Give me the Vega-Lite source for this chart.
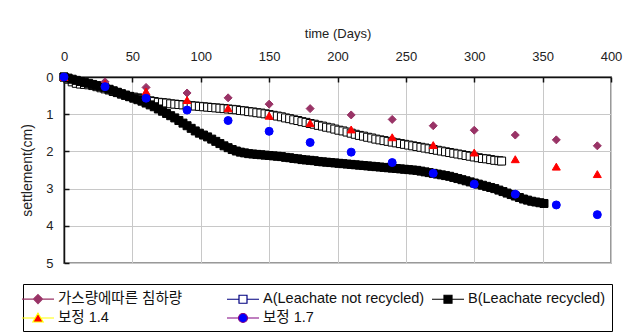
{
  "$schema": "https://vega.github.io/schema/vega-lite/v6.json",
  "width": 547,
  "height": 186,
  "autosize": {"type": "none"},
  "padding": {"left": 64, "top": 77, "right": 18, "bottom": 72},
  "background": "white",
  "config": {
    "view": {"stroke": "#999999", "strokeWidth": 2},
    "font": "Liberation Sans",
    "axis": {
      "labelFont": "Liberation Sans",
      "titleFont": "Liberation Sans",
      "labelColor": "#222222",
      "titleColor": "#222222",
      "labelFontSize": 13,
      "titleFontSize": 13,
      "titleFontWeight": "normal",
      "gridColor": "#c8c8c8",
      "gridWidth": 1,
      "domainColor": "#111111",
      "domainWidth": 1.5,
      "tickColor": "#111111",
      "tickWidth": 1.5
    },
    "legend": {
      "orient": "none",
      "legendX": -41,
      "legendY": 207,
      "direction": "horizontal",
      "columns": 3,
      "gridAlign": "all",
      "columnPadding": 4,
      "rowPadding": 3,
      "padding": 6,
      "strokeColor": "#000000",
      "fillColor": "#ffffff",
      "labelFont": "Liberation Sans, Noto Sans CJK KR",
      "labelFontSize": 14.5,
      "labelColor": "#111111",
      "labelOffset": 11,
      "labelLimit": 300,
      "symbolSize": 256,
      "symbolStrokeWidth": 1.2
    }
  },
  "data": {
    "values": [
      {"s":"A","d":0,"v":0},{"s":"A","d":3,"v":0.06},{"s":"A","d":6,"v":0.13},{"s":"A","d":9,"v":0.17},{"s":"A","d":12,"v":0.19},{"s":"A","d":15,"v":0.2},{"s":"A","d":18,"v":0.21},{"s":"A","d":21,"v":0.23},{"s":"A","d":24,"v":0.26},{"s":"A","d":27,"v":0.29},{"s":"A","d":30,"v":0.32},{"s":"A","d":33,"v":0.35},{"s":"A","d":36,"v":0.39},{"s":"A","d":39,"v":0.42},{"s":"A","d":42,"v":0.46},{"s":"A","d":45,"v":0.49},{"s":"A","d":48,"v":0.52},{"s":"A","d":51,"v":0.54},{"s":"A","d":54,"v":0.56},{"s":"A","d":57,"v":0.58},{"s":"A","d":60,"v":0.61},{"s":"A","d":63,"v":0.64},{"s":"A","d":66,"v":0.66},{"s":"A","d":69,"v":0.68},{"s":"A","d":72,"v":0.69},{"s":"A","d":75,"v":0.7},{"s":"A","d":78,"v":0.72},{"s":"A","d":81,"v":0.73},{"s":"A","d":84,"v":0.74},{"s":"A","d":87,"v":0.75},{"s":"A","d":90,"v":0.76},{"s":"A","d":93,"v":0.77},{"s":"A","d":96,"v":0.78},{"s":"A","d":99,"v":0.79},{"s":"A","d":102,"v":0.8},{"s":"A","d":105,"v":0.81},{"s":"A","d":108,"v":0.82},{"s":"A","d":111,"v":0.83},{"s":"A","d":114,"v":0.84},{"s":"A","d":117,"v":0.85},{"s":"A","d":120,"v":0.86},{"s":"A","d":123,"v":0.87},{"s":"A","d":126,"v":0.88},{"s":"A","d":129,"v":0.9},{"s":"A","d":132,"v":0.91},{"s":"A","d":135,"v":0.93},{"s":"A","d":138,"v":0.94},{"s":"A","d":141,"v":0.96},{"s":"A","d":144,"v":0.97},{"s":"A","d":147,"v":0.99},{"s":"A","d":150,"v":1.01},{"s":"A","d":153,"v":1.03},{"s":"A","d":156,"v":1.05},{"s":"A","d":159,"v":1.07},{"s":"A","d":162,"v":1.1},{"s":"A","d":165,"v":1.12},{"s":"A","d":168,"v":1.15},{"s":"A","d":171,"v":1.17},{"s":"A","d":174,"v":1.2},{"s":"A","d":177,"v":1.22},{"s":"A","d":180,"v":1.25},{"s":"A","d":183,"v":1.27},{"s":"A","d":186,"v":1.3},{"s":"A","d":189,"v":1.32},{"s":"A","d":192,"v":1.35},{"s":"A","d":195,"v":1.37},{"s":"A","d":198,"v":1.4},{"s":"A","d":201,"v":1.43},{"s":"A","d":204,"v":1.45},{"s":"A","d":207,"v":1.48},{"s":"A","d":210,"v":1.51},{"s":"A","d":213,"v":1.54},{"s":"A","d":216,"v":1.57},{"s":"A","d":219,"v":1.59},{"s":"A","d":222,"v":1.62},{"s":"A","d":225,"v":1.64},{"s":"A","d":228,"v":1.67},{"s":"A","d":231,"v":1.69},{"s":"A","d":234,"v":1.71},{"s":"A","d":237,"v":1.73},{"s":"A","d":240,"v":1.75},{"s":"A","d":243,"v":1.77},{"s":"A","d":246,"v":1.79},{"s":"A","d":249,"v":1.81},{"s":"A","d":252,"v":1.83},{"s":"A","d":255,"v":1.85},{"s":"A","d":258,"v":1.87},{"s":"A","d":261,"v":1.89},{"s":"A","d":264,"v":1.91},{"s":"A","d":267,"v":1.93},{"s":"A","d":270,"v":1.95},{"s":"A","d":273,"v":1.97},{"s":"A","d":276,"v":1.99},{"s":"A","d":279,"v":2.01},{"s":"A","d":282,"v":2.03},{"s":"A","d":285,"v":2.05},{"s":"A","d":288,"v":2.07},{"s":"A","d":291,"v":2.09},{"s":"A","d":294,"v":2.11},{"s":"A","d":297,"v":2.13},{"s":"A","d":300,"v":2.15},{"s":"A","d":303,"v":2.17},{"s":"A","d":306,"v":2.19},{"s":"A","d":309,"v":2.2},{"s":"A","d":312,"v":2.22},{"s":"A","d":315,"v":2.24},{"s":"A","d":318,"v":2.25},{"s":"A","d":320,"v":2.26},
      {"s":"B","d":0,"v":0},{"s":"B","d":3,"v":0.03},{"s":"B","d":6,"v":0.06},{"s":"B","d":9,"v":0.09},{"s":"B","d":12,"v":0.12},{"s":"B","d":15,"v":0.15},{"s":"B","d":18,"v":0.17},{"s":"B","d":21,"v":0.2},{"s":"B","d":24,"v":0.23},{"s":"B","d":27,"v":0.26},{"s":"B","d":30,"v":0.29},{"s":"B","d":33,"v":0.33},{"s":"B","d":36,"v":0.37},{"s":"B","d":39,"v":0.41},{"s":"B","d":42,"v":0.45},{"s":"B","d":45,"v":0.49},{"s":"B","d":48,"v":0.53},{"s":"B","d":51,"v":0.57},{"s":"B","d":54,"v":0.61},{"s":"B","d":57,"v":0.65},{"s":"B","d":60,"v":0.7},{"s":"B","d":63,"v":0.75},{"s":"B","d":66,"v":0.8},{"s":"B","d":69,"v":0.86},{"s":"B","d":72,"v":0.92},{"s":"B","d":75,"v":0.98},{"s":"B","d":78,"v":1.04},{"s":"B","d":81,"v":1.1},{"s":"B","d":84,"v":1.17},{"s":"B","d":87,"v":1.24},{"s":"B","d":90,"v":1.31},{"s":"B","d":93,"v":1.38},{"s":"B","d":96,"v":1.45},{"s":"B","d":99,"v":1.51},{"s":"B","d":102,"v":1.56},{"s":"B","d":105,"v":1.61},{"s":"B","d":108,"v":1.67},{"s":"B","d":111,"v":1.73},{"s":"B","d":114,"v":1.79},{"s":"B","d":117,"v":1.85},{"s":"B","d":120,"v":1.9},{"s":"B","d":123,"v":1.95},{"s":"B","d":126,"v":1.99},{"s":"B","d":129,"v":2.02},{"s":"B","d":132,"v":2.04},{"s":"B","d":135,"v":2.06},{"s":"B","d":138,"v":2.07},{"s":"B","d":141,"v":2.08},{"s":"B","d":144,"v":2.09},{"s":"B","d":147,"v":2.1},{"s":"B","d":150,"v":2.11},{"s":"B","d":153,"v":2.12},{"s":"B","d":156,"v":2.13},{"s":"B","d":159,"v":2.14},{"s":"B","d":162,"v":2.16},{"s":"B","d":165,"v":2.17},{"s":"B","d":168,"v":2.19},{"s":"B","d":171,"v":2.2},{"s":"B","d":174,"v":2.22},{"s":"B","d":177,"v":2.23},{"s":"B","d":180,"v":2.24},{"s":"B","d":183,"v":2.25},{"s":"B","d":186,"v":2.27},{"s":"B","d":189,"v":2.28},{"s":"B","d":192,"v":2.29},{"s":"B","d":195,"v":2.3},{"s":"B","d":198,"v":2.31},{"s":"B","d":201,"v":2.32},{"s":"B","d":204,"v":2.33},{"s":"B","d":207,"v":2.34},{"s":"B","d":210,"v":2.35},{"s":"B","d":213,"v":2.36},{"s":"B","d":216,"v":2.37},{"s":"B","d":219,"v":2.38},{"s":"B","d":222,"v":2.39},{"s":"B","d":225,"v":2.4},{"s":"B","d":228,"v":2.41},{"s":"B","d":231,"v":2.42},{"s":"B","d":234,"v":2.43},{"s":"B","d":237,"v":2.44},{"s":"B","d":240,"v":2.45},{"s":"B","d":243,"v":2.46},{"s":"B","d":246,"v":2.47},{"s":"B","d":249,"v":2.48},{"s":"B","d":252,"v":2.49},{"s":"B","d":255,"v":2.5},{"s":"B","d":258,"v":2.51},{"s":"B","d":261,"v":2.53},{"s":"B","d":264,"v":2.55},{"s":"B","d":267,"v":2.57},{"s":"B","d":270,"v":2.59},{"s":"B","d":273,"v":2.61},{"s":"B","d":276,"v":2.63},{"s":"B","d":279,"v":2.65},{"s":"B","d":282,"v":2.67},{"s":"B","d":285,"v":2.7},{"s":"B","d":288,"v":2.73},{"s":"B","d":291,"v":2.76},{"s":"B","d":294,"v":2.79},{"s":"B","d":297,"v":2.82},{"s":"B","d":300,"v":2.85},{"s":"B","d":303,"v":2.88},{"s":"B","d":306,"v":2.91},{"s":"B","d":309,"v":2.94},{"s":"B","d":312,"v":2.97},{"s":"B","d":315,"v":3.0},{"s":"B","d":318,"v":3.04},{"s":"B","d":321,"v":3.08},{"s":"B","d":324,"v":3.12},{"s":"B","d":327,"v":3.16},{"s":"B","d":330,"v":3.2},{"s":"B","d":333,"v":3.24},{"s":"B","d":336,"v":3.28},{"s":"B","d":339,"v":3.31},{"s":"B","d":342,"v":3.34},{"s":"B","d":345,"v":3.36},{"s":"B","d":348,"v":3.38},{"s":"B","d":351,"v":3.4},
      {"s":"G","d":0,"v":0},{"s":"G","d":30,"v":0.13},{"s":"G","d":60,"v":0.28},{"s":"G","d":90,"v":0.43},{"s":"G","d":120,"v":0.56},{"s":"G","d":150,"v":0.73},{"s":"G","d":180,"v":0.85},{"s":"G","d":210,"v":1.02},{"s":"G","d":240,"v":1.14},{"s":"G","d":270,"v":1.31},{"s":"G","d":300,"v":1.43},{"s":"G","d":330,"v":1.56},{"s":"G","d":360,"v":1.69},{"s":"G","d":390,"v":1.85},
      {"s":"T","d":0,"v":0},{"s":"T","d":30,"v":0.18},{"s":"T","d":60,"v":0.39},{"s":"T","d":90,"v":0.62},{"s":"T","d":120,"v":0.84},{"s":"T","d":150,"v":1.04},{"s":"T","d":180,"v":1.24},{"s":"T","d":210,"v":1.41},{"s":"T","d":240,"v":1.62},{"s":"T","d":270,"v":1.83},{"s":"T","d":300,"v":2.03},{"s":"T","d":330,"v":2.21},{"s":"T","d":360,"v":2.41},{"s":"T","d":390,"v":2.61},
      {"s":"C","d":0,"v":0},{"s":"C","d":30,"v":0.26},{"s":"C","d":60,"v":0.57},{"s":"C","d":90,"v":0.89},{"s":"C","d":120,"v":1.17},{"s":"C","d":150,"v":1.46},{"s":"C","d":180,"v":1.76},{"s":"C","d":210,"v":2.02},{"s":"C","d":240,"v":2.3},{"s":"C","d":270,"v":2.59},{"s":"C","d":300,"v":2.88},{"s":"C","d":330,"v":3.15},{"s":"C","d":360,"v":3.44},{"s":"C","d":390,"v":3.7}
    ]
  },
  "encoding": {
    "x": {
      "field": "d", "type": "quantitative",
      "scale": {"domain": [0, 400], "nice": false},
      "axis": {
        "orient": "top", "title": "time (Days)",
        "values": [0, 50, 100, 150, 200, 250, 300, 350, 400],
        "tickSize": -5, "labelPadding": 19, "titlePadding": 10,
        "labelFlush": false
      }
    },
    "y": {
      "field": "v", "type": "quantitative",
      "scale": {"domain": [0, 5], "reverse": true, "nice": false},
      "axis": {
        "title": "settlement(cm)",
        "titleFontSize": 14,
        "values": [0, 1, 2, 3, 4, 5],
        "tickSize": -5, "labelPadding": 16, "titlePadding": 11,
        "labelFlush": false
      }
    }
  },
  "layer": [
    {
      "mark": {"type": "point", "filled": true, "size": 64, "strokeWidth": 1, "opacity": 1},
      "encoding": {
        "shape": {
          "field": "s", "type": "nominal",
          "scale": {"domain": ["G", "A", "B", "T", "C"], "range": ["diamond", "square", "square", "triangle-up", "circle"]},
          "legend": null
        },
        "stroke": {
          "field": "s", "type": "nominal",
          "scale": {"domain": ["G", "A", "B", "T", "C"], "range": ["#993366", "#000000", "#000000", "#ff0000", "#0000ff"]},
          "legend": null
        },
        "fill": {
          "field": "s", "type": "nominal",
          "scale": {"domain": ["G", "A", "B", "T", "C"], "range": ["#993366", "#ffffff", "#000000", "#ff0000", "#0000ff"]},
          "legend": null
        }
      }
    },
    {
      "transform": [{"filter": "datum.d < 0"}],
      "mark": {"type": "point", "filled": true, "size": 256, "strokeWidth": 1.2, "opacity": 1},
      "encoding": {
        "shape": {
          "field": "s", "type": "nominal",
          "scale": {"domain": ["G", "A", "B", "T", "C"], "range": [
            "M-2,0H-0.56M0.56,0H2M0,-0.56L0.56,0L0,0.56L-0.56,0Z",
            "M-2,0H-0.5M0.5,0H2M-0.5,-0.5H0.5V0.5H-0.5Z",
            "M-2,0H-0.5M0.5,0H2M-0.5,-0.5H0.5V0.5H-0.5Z",
            "M-2,0H-0.34M0.34,0H2M0,-0.6L0.64,0.5L-0.64,0.5Z",
            "M-2,0H-0.56M0.56,0H2M0.56,0A0.56,0.56,0,1,1,-0.56,0A0.56,0.56,0,1,1,0.56,0Z"
          ]},
          "legend": {
            "title": null,
            "labelExpr": "datum.value === 'G' ? '가스량에따른 침하량' : datum.value === 'A' ? 'A(Leachate not recycled)' : datum.value === 'B' ? 'B(Leachate recycled)' : datum.value === 'T' ? '보정 1.4' : '보정 1.7'"
          }
        },
        "stroke": {
          "field": "s", "type": "nominal",
          "scale": {"domain": ["G", "A", "B", "T", "C"], "range": ["#993366", "#000080", "#000000", "#ffff00", "#800080"]},
          "legend": {
            "title": null,
            "labelExpr": "datum.value === 'G' ? '가스량에따른 침하량' : datum.value === 'A' ? 'A(Leachate not recycled)' : datum.value === 'B' ? 'B(Leachate recycled)' : datum.value === 'T' ? '보정 1.4' : '보정 1.7'"
          }
        },
        "fill": {
          "field": "s", "type": "nominal",
          "scale": {"domain": ["G", "A", "B", "T", "C"], "range": ["#993366", "#ffffff", "#000000", "#ff0000", "#0000ff"]},
          "legend": {
            "title": null,
            "labelExpr": "datum.value === 'G' ? '가스량에따른 침하량' : datum.value === 'A' ? 'A(Leachate not recycled)' : datum.value === 'B' ? 'B(Leachate recycled)' : datum.value === 'T' ? '보정 1.4' : '보정 1.7'"
          }
        }
      }
    }
  ],
  "resolve": {"scale": {"shape": "independent", "fill": "independent", "stroke": "independent"}}
}
